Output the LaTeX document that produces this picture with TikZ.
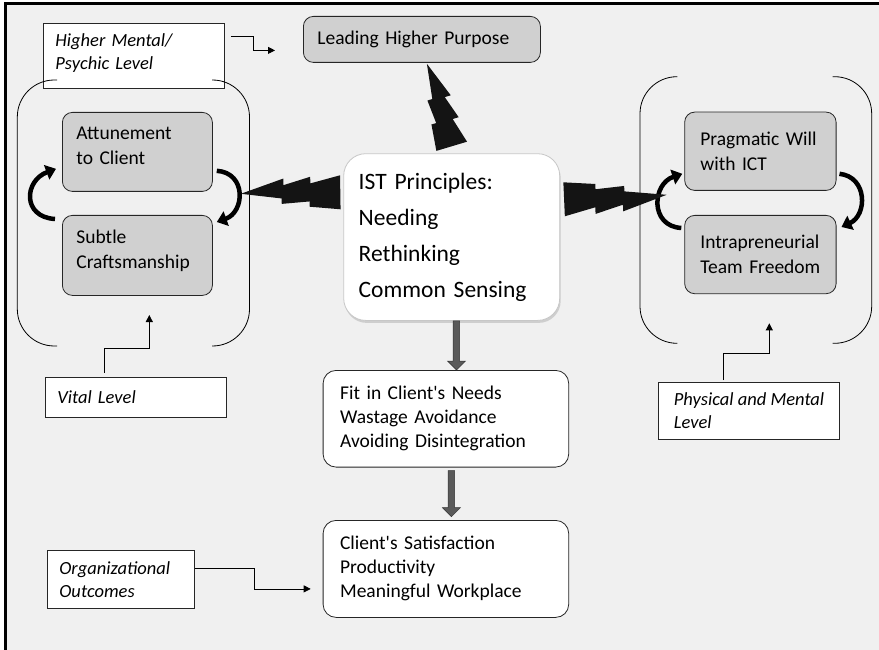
\documentclass[tikz,border=0pt]{standalone}
\usepackage{fontspec}
\setmainfont{Carlito}
\usetikzlibrary{calc,arrows.meta,shadows}

\definecolor{canvasgray}{HTML}{F0F0F0}
\definecolor{boxgray}{HTML}{D0D0D0}
\definecolor{shaftgray}{HTML}{5A5A5A}

\tikzset{
  graybox/.style={draw=black!85, line width=0.8pt, fill=boxgray, rounded corners=10pt,
    anchor=north west, align=left, inner xsep=14pt, inner ysep=0pt,
    font=\fontsize{19.5}{25}\selectfont},
  whitebox/.style={draw=black!85, line width=0.8pt, fill=white, rounded corners=13pt,
    anchor=north west, align=left, inner xsep=17pt, inner ysep=0pt,
    font=\fontsize{19.5}{24}\selectfont},
  levelbox/.style={draw=black!85, line width=0.8pt, fill=white,
    anchor=north west, align=left, inner xsep=12pt, inner ysep=0pt,
    font=\fontsize{18.5}{23}\selectfont\itshape},
  principlebox/.style={draw=black!22, line width=0.8pt, fill=white, rounded corners=22pt,
    anchor=north west, align=left, inner xsep=15pt, inner ysep=0pt,
    drop shadow={opacity=0.3, shadow xshift=1pt, shadow yshift=-2.5pt},
    font=\fontsize{23.5}{36}\selectfont},
  elbow/.style={line width=0.8pt, -{Triangle[length=7pt,width=7pt]}},
  cyclearrow/.style={line width=4.5pt, -{Triangle[length=10pt,width=15pt]}},
  bracket/.style={line width=0.8pt, rounded corners=37pt},
}

% lightning bolt from a tip (#1) to the centre of its wide end (#2), half width #3
\newcommand{\zapbolt}[3]{%
  \coordinate (zn) at ($($(#1)!1pt!-90:(#2)$)-(#1)$);
  \fill[black!92] (#1)
    -- ($(#1)!.43!(#2)+{-.86*#3}*(zn)$)
    -- ($(#1)!.43!(#2)+{-.47*#3}*(zn)$)
    -- ($(#1)!.70!(#2)+{-.94*#3}*(zn)$)
    -- ($(#1)!.70!(#2)+{-.55*#3}*(zn)$)
    -- ($(#2)+{-#3}*(zn)$)
    -- ($(#2)+{#3}*(zn)$)
    -- ($(#1)!.69!(#2)+{.82*#3}*(zn)$)
    -- ($(#1)!.69!(#2)+{.51*#3}*(zn)$)
    -- ($(#1)!.41!(#2)+{.63*#3}*(zn)$)
    -- ($(#1)!.41!(#2)+{.31*#3}*(zn)$)
    -- cycle;}

% grey block arrow pointing down, from (#1) to its tip (#2)
\newcommand{\blockdown}[2]{%
  \draw[fill=shaftgray, draw=black!80, line width=0.5pt]
    ($(#1)+(-3.3,0)$) -- ($(#2)+(-3.3,-9)$) -- ($(#2)+(-9,-9)$) -- (#2)
    -- ($(#2)+(9,-9)$) -- ($(#2)+(3.3,-9)$) -- ($(#1)+(3.3,0)$) -- cycle;}

\begin{document}
\begin{tikzpicture}[x=1pt, y=-1pt]
\useasboundingbox (0,0) rectangle (879,650);

% page background and frame
\fill[white] (0,0) rectangle (879,650);
\fill[canvasgray] (5.3,3.7) rectangle (879,650);
\draw[line width=2.7pt] (5.3,650) -- (5.3,3.7) -- (879,3.7);

% level labels
\node[levelbox, text width=157pt, minimum height=65pt, text height=13pt, text depth=32pt] (hm) at (43,23)
  {Higher Mental/\\Psychic Level};
\node[levelbox, text width=157pt, minimum height=40pt] (vital) at (45,376.7) {Vital Level};
\node[levelbox, minimum width=180.7pt, minimum height=57.6pt, inner xsep=10pt] (phys) at (658.3,381.7)
  {Physical and Mental\\Level};
\node[levelbox, text width=123pt, minimum height=58pt] (org) at (47,550)
  {Organizational\\Outcomes};

% top purpose box
\node[graybox, text width=209pt, minimum height=46pt] (lead) at (303,16) {Leading Higher Purpose};

% left group
\node[graybox, text width=122pt, minimum height=79pt, text height=13pt, text depth=38pt] (att) at (62,112)
  {Attunement\\to Client};
\node[graybox, text width=122pt, minimum height=80pt, text height=13pt, text depth=37.6pt] (sub) at (62,215)
  {Subtle\\Craftsmanship};
\draw[bracket] (57,80) -- (17.3,80) -- (17.3,346) -- (57,346);
\draw[bracket] (212,80) -- (249.5,80) -- (249.5,346) -- (212,346);

% right group
\node[graybox, text width=120pt, minimum height=78.3pt, inner xsep=15.7pt] (pw) at (684.3,111.7)
  {Pragmatic Will\\with ICT};
\node[graybox, text width=120pt, minimum height=78.3pt, inner xsep=15.7pt] (it) at (684.3,215)
  {Intrapreneurial\\Team Freedom};
\draw[bracket] (677.3,76.7) -- (640,76.7) -- (640,343.3) -- (677.3,343.3);
\draw[bracket] (832.7,76.7) -- (871.7,76.7) -- (871.7,343.3) -- (832.7,343.3);

% central principles and outcomes
\node[principlebox, text width=186pt, minimum height=166.7pt] (ist) at (343.3,153.3)
  {IST Principles:\\Needing\\Rethinking\\Common Sensing};
\node[whitebox, text width=211.6pt, minimum height=96.7pt] (fit) at (322.7,370)
  {Fit in Client\textquotesingle s Needs\\Wastage Avoidance\\Avoiding Disintegration};
\node[whitebox, text width=211.6pt, minimum height=97pt] (cli) at (322.7,520)
  {Client\textquotesingle s Satisfaction\\Productivity\\Meaningful Workplace};

% cycling arrows inside the groups
\draw[cyclearrow] ($(sub.north west)+(-7,4)$) .. controls +(-33,-2) and +(-32,12) .. ($(att.south west)+(-6,-23)$);
\draw[cyclearrow] ($(att.south east)+(4,-21)$) .. controls +(30,2) and +(28,-10) .. ($(sub.north east)+(4,7)$);
\draw[cyclearrow] ($(it.north west)+(-3,13)$) .. controls +(-32,-2) and +(-30,10) .. ($(pw.south west)+(-2,-17)$);
\draw[cyclearrow] ($(pw.south east)+(3,-17)$) .. controls +(28,3) and +(26,-12) .. ($(it.north east)+(5,12)$);

% lightning links to the principles
\coordinate (topTip) at ($(lead.south)+(5,1)$);
\coordinate (topBase) at ($(ist.north)+(0,-7)$);
\coordinate (leftTip) at ($(att.south east)+(28,2)$);
\coordinate (leftBase) at ($(ist.north west)+(-3,39)$);
\coordinate (rightTip) at ($(pw.south west)+(-17.6,4)$);
\coordinate (rightBase) at ($(ist.north east)+(4,46)$);
\zapbolt{topTip}{topBase}{16}
\zapbolt{leftTip}{leftBase}{17}
\zapbolt{rightTip}{rightBase}{17}

% flow downwards
\coordinate (a1top) at ($(ist.south)+(4.7,0)$);
\coordinate (a1tip) at ($(fit.north)+(10.5,0)$);
\coordinate (a2top) at ($(fit.south)+(5.5,3)$);
\coordinate (a2tip) at ($(cli.north)+(5.5,-3.3)$);
\blockdown{a1top}{a1tip}
\blockdown{a2top}{a2tip}

% elbow pointers from the level labels
\coordinate (lgroup) at (149.3,315);
\coordinate (rgroup) at (769.3,323.3);
\draw[elbow] ($(hm.north east)+(6,13)$) -- ++(23,0) |- ($(lead.west)+(-28,11)$);
\draw[elbow] ($(vital.north west)+(59,-4)$) -- ++(0,-24) -| (lgroup);
\draw[elbow] ($(phys.north west)+(65,-1.7)$) -- ++(0,-26.7) -| (rgroup);
\draw[elbow] ($(org.north east)+(0,18)$) -- ++(60,0) |- ($(cli.west)+(-12,20)$);
\end{tikzpicture}
\end{document}
